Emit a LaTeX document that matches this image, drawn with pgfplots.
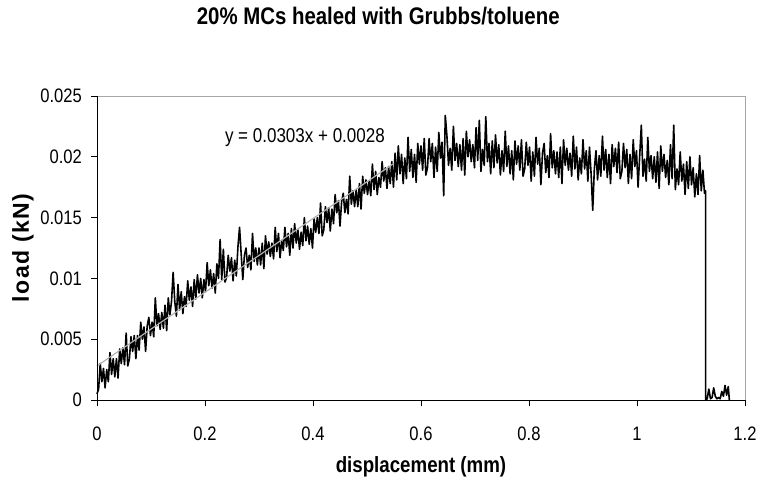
\documentclass[border=0pt]{standalone}
\usepackage{fontspec}
\setmainfont{Liberation Sans}
\newfontfamily\narrowfont{Liberation Sans}[FakeStretch=0.85]
\usepackage{pgfplots}
\pgfplotsset{compat=1.18}
\usepackage{pgfplotstable}

\pgfplotstableread{
x y
0.000 0.0005
0.003 0.0009
0.006 0.0030
0.009 0.0015
0.012 0.0026
0.015 0.0010
0.018 0.0025
0.021 0.0015
0.024 0.0039
0.027 0.0021
0.030 0.0034
0.033 0.0019
0.036 0.0034
0.039 0.0018
0.042 0.0042
0.045 0.0030
0.048 0.0043
0.051 0.0029
0.054 0.0055
0.057 0.0028
0.060 0.0034
0.063 0.0052
0.066 0.0040
0.069 0.0053
0.072 0.0034
0.075 0.0053
0.078 0.0041
0.081 0.0064
0.084 0.0050
0.087 0.0060
0.090 0.0040
0.093 0.0061
0.096 0.0068
0.099 0.0053
0.102 0.0064
0.105 0.0052
0.108 0.0084
0.111 0.0061
0.114 0.0071
0.117 0.0058
0.120 0.0072
0.123 0.0059
0.126 0.0078
0.129 0.0057
0.132 0.0084
0.135 0.0070
0.138 0.0081
0.141 0.0105
0.144 0.0081
0.147 0.0069
0.150 0.0095
0.153 0.0074
0.156 0.0089
0.159 0.0071
0.162 0.0085
0.165 0.0077
0.168 0.0098
0.171 0.0082
0.174 0.0093
0.177 0.0077
0.180 0.0099
0.183 0.0083
0.186 0.0103
0.189 0.0088
0.192 0.0100
0.195 0.0084
0.198 0.0099
0.201 0.0089
0.204 0.0113
0.207 0.0094
0.210 0.0107
0.213 0.0092
0.216 0.0104
0.219 0.0088
0.222 0.0112
0.225 0.0100
0.228 0.0132
0.231 0.0099
0.234 0.0124
0.237 0.0097
0.240 0.0101
0.243 0.0119
0.246 0.0106
0.249 0.0117
0.252 0.0098
0.255 0.0115
0.258 0.0102
0.261 0.0126
0.264 0.0142
0.267 0.0120
0.270 0.0099
0.273 0.0119
0.276 0.0125
0.279 0.0109
0.282 0.0119
0.285 0.0107
0.288 0.0137
0.291 0.0114
0.294 0.0125
0.297 0.0111
0.300 0.0125
0.303 0.0111
0.306 0.0129
0.309 0.0108
0.312 0.0135
0.315 0.0120
0.318 0.0130
0.321 0.0118
0.324 0.0129
0.327 0.0116
0.330 0.0142
0.333 0.0122
0.336 0.0137
0.339 0.0117
0.342 0.0131
0.345 0.0123
0.348 0.0142
0.351 0.0126
0.354 0.0137
0.357 0.0119
0.360 0.0141
0.363 0.0125
0.366 0.0145
0.369 0.0129
0.372 0.0140
0.375 0.0124
0.378 0.0138
0.381 0.0127
0.384 0.0150
0.387 0.0131
0.390 0.0143
0.393 0.0128
0.396 0.0141
0.399 0.0125
0.402 0.0149
0.405 0.0138
0.408 0.0150
0.411 0.0137
0.414 0.0162
0.417 0.0135
0.420 0.0140
0.423 0.0159
0.426 0.0146
0.429 0.0158
0.432 0.0139
0.435 0.0157
0.438 0.0145
0.441 0.0169
0.444 0.0154
0.447 0.0164
0.450 0.0143
0.453 0.0163
0.456 0.0170
0.459 0.0154
0.462 0.0165
0.465 0.0153
0.468 0.0184
0.471 0.0161
0.474 0.0172
0.477 0.0159
0.480 0.0173
0.483 0.0159
0.486 0.0178
0.489 0.0157
0.492 0.0184
0.495 0.0170
0.498 0.0181
0.501 0.0169
0.504 0.0180
0.507 0.0168
0.510 0.0194
0.513 0.0173
0.516 0.0188
0.519 0.0169
0.522 0.0183
0.525 0.0175
0.528 0.0196
0.531 0.0180
0.534 0.0191
0.537 0.0174
0.540 0.0192
0.543 0.0178
0.546 0.0196
0.549 0.0175
0.552 0.0203
0.555 0.0181
0.558 0.0209
0.561 0.0186
0.564 0.0202
0.567 0.0178
0.570 0.0199
0.573 0.0182
0.576 0.0216
0.579 0.0188
0.582 0.0206
0.585 0.0183
0.588 0.0202
0.591 0.0179
0.594 0.0211
0.597 0.0194
0.600 0.0209
0.603 0.0189
0.606 0.0215
0.609 0.0185
0.612 0.0191
0.615 0.0215
0.618 0.0196
0.621 0.0211
0.624 0.0183
0.627 0.0208
0.630 0.0188
0.633 0.0220
0.636 0.0199
0.639 0.0212
0.642 0.0168
0.645 0.0234
0.648 0.0217
0.651 0.0193
0.654 0.0207
0.657 0.0189
0.660 0.0225
0.663 0.0197
0.666 0.0211
0.669 0.0192
0.672 0.0210
0.675 0.0189
0.678 0.0215
0.681 0.0185
0.684 0.0221
0.687 0.0200
0.690 0.0214
0.693 0.0196
0.696 0.0210
0.699 0.0191
0.702 0.0224
0.705 0.0197
0.708 0.0230
0.711 0.0188
0.714 0.0206
0.717 0.0193
0.720 0.0233
0.723 0.0196
0.726 0.0211
0.729 0.0186
0.732 0.0213
0.735 0.0191
0.738 0.0218
0.741 0.0195
0.744 0.0210
0.747 0.0185
0.750 0.0205
0.753 0.0188
0.756 0.0221
0.759 0.0192
0.762 0.0209
0.765 0.0186
0.768 0.0205
0.771 0.0181
0.774 0.0213
0.777 0.0194
0.780 0.0209
0.783 0.0189
0.786 0.0214
0.789 0.0184
0.792 0.0190
0.795 0.0212
0.798 0.0193
0.801 0.0208
0.804 0.0180
0.807 0.0204
0.810 0.0184
0.813 0.0216
0.816 0.0194
0.819 0.0207
0.822 0.0177
0.825 0.0203
0.828 0.0211
0.831 0.0187
0.834 0.0201
0.837 0.0183
0.840 0.0219
0.843 0.0191
0.846 0.0205
0.849 0.0186
0.852 0.0204
0.855 0.0183
0.858 0.0208
0.861 0.0178
0.864 0.0214
0.867 0.0193
0.870 0.0207
0.873 0.0189
0.876 0.0203
0.879 0.0184
0.882 0.0217
0.885 0.0190
0.888 0.0208
0.891 0.0181
0.894 0.0199
0.897 0.0186
0.900 0.0214
0.903 0.0190
0.906 0.0205
0.909 0.0180
0.912 0.0208
0.915 0.0186
0.918 0.0156
0.921 0.0190
0.924 0.0205
0.927 0.0181
0.930 0.0201
0.933 0.0184
0.936 0.0217
0.939 0.0189
0.942 0.0206
0.945 0.0183
0.948 0.0202
0.951 0.0178
0.954 0.0210
0.957 0.0192
0.960 0.0207
0.963 0.0187
0.966 0.0212
0.969 0.0182
0.972 0.0188
0.975 0.0211
0.978 0.0191
0.981 0.0206
0.984 0.0178
0.987 0.0202
0.990 0.0182
0.993 0.0214
0.996 0.0192
0.999 0.0205
1.002 0.0175
1.005 0.0201
1.008 0.0226
1.011 0.0184
1.014 0.0198
1.017 0.0180
1.020 0.0216
1.023 0.0188
1.026 0.0201
1.029 0.0182
1.032 0.0200
1.035 0.0179
1.038 0.0204
1.041 0.0174
1.044 0.0209
1.047 0.0188
1.050 0.0202
1.053 0.0183
1.056 0.0197
1.059 0.0177
1.062 0.0210
1.065 0.0182
1.068 0.0226
1.071 0.0173
1.074 0.0190
1.077 0.0177
1.080 0.0204
1.083 0.0180
1.086 0.0194
1.089 0.0169
1.092 0.0196
1.095 0.0174
1.098 0.0200
1.101 0.0177
1.104 0.0191
1.107 0.0167
1.110 0.0186
1.113 0.0169
1.116 0.0201
1.119 0.0172
1.122 0.0189
1.125 0.0170
1.127 0.0172
1.127 0.0000
1.130 0.0001
1.133 0.0009
1.136 0.0001
1.139 0.0002
1.142 0.0010
1.145 0.0003
1.148 0.0001
1.151 0.0002
1.154 0.0001
1.157 0.0007
1.160 0.0003
1.163 0.0012
1.166 0.0004
1.169 0.0011
1.171 0.0000
}\loaddata

\begin{document}
\begin{tikzpicture}
\path[use as bounding box] (-97pt,-97pt) rectangle (665pt,400pt);
\begin{axis}[
  at={(0pt,0pt)}, anchor=south west,
  scale only axis, width=648pt, height=304pt,
  xmin=0, xmax=1.2, ymin=0, ymax=0.025,
  scaled y ticks=false, scaled x ticks=false,
  axis line style={draw=none},
  xtick={0,0.2,0.4,0.6,0.8,1,1.2},
  xticklabels={0,0.2,0.4,0.6,0.8,1,1.2},
  ytick={0,0.005,0.01,0.015,0.02,0.025},
  yticklabels={0,0.005,0.01,0.015,0.02,0.025},
  xtick pos=left, ytick pos=left,
  tick align=outside,
  major tick length=6pt,
  tick style={black, line width=0.8pt},
  xticklabel style={font=\narrowfont\fontsize{19.5}{19.5}\selectfont, anchor=north, inner sep=0pt},
  yticklabel style={font=\narrowfont\fontsize{19.5}{19.5}\selectfont, anchor=east, inner sep=0pt},
  xticklabel shift=21pt,
  yticklabel shift=9pt,
  title={20\% MCs healed with Grubbs/toluene},
  title style={at={(axis description cs:0.434,1.2434)}, anchor=center, inner sep=0pt,
    font=\narrowfont\bfseries\fontsize{24}{24}\selectfont},
  xlabel={displacement (mm)},
  xlabel style={at={(axis description cs:0.5,-0.2204)}, anchor=center, inner sep=0pt,
    font=\narrowfont\bfseries\fontsize{22}{22}\selectfont},
  ylabel={load (kN)},
  ylabel style={at={(axis description cs:-0.1142,0.5)}, anchor=center, inner sep=0pt,
    font=\bfseries\fontsize{23}{23}\selectfont\addfontfeature{LetterSpace=6}},
  clip=false,
]
\addplot[black, line width=1.6pt, mark=none, line join=round] table[x=x, y=y] {\loaddata};
\addplot[gray!60, line width=1.2pt, mark=none] coordinates {(0,0.0028) (0.55,0.019465)};
\node[font=\narrowfont\fontsize{20}{20}\selectfont] at (axis cs:0.385,0.0216) {y = 0.0303x + 0.0028};
\draw[gray!70, line width=0.6pt] (rel axis cs:0,1) -- (rel axis cs:1,1) -- (rel axis cs:1,0);
\draw[black, line width=0.8pt] (rel axis cs:0,1) -- (rel axis cs:0,0) -- (rel axis cs:1,0);
\end{axis}
\end{tikzpicture}
\end{document}
